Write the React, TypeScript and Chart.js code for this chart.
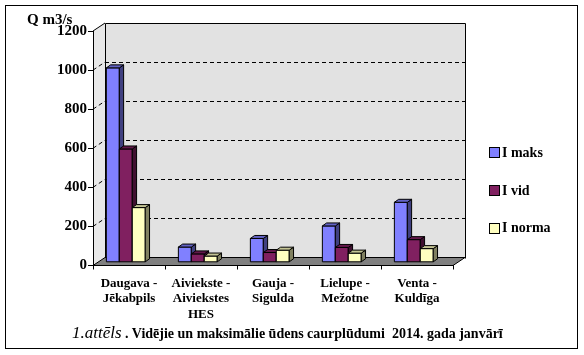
import React, { useEffect, useRef } from 'react';
import { Chart, registerables } from 'chart.js';

Chart.register(...registerables);

// ---------- data ----------
const categories: string[][] = [
  ['Daugava -', 'Jēkabpils'],
  ['Aiviekste -', 'Aiviekstes', 'HES'],
  ['Gauja -', 'Sigulda'],
  ['Lielupe -', 'Mežotne'],
  ['Venta -', 'Kuldīga'],
];
const seriesNames = ['I maks', 'I vid', 'I norma'];
const iMaks = [995, 78, 122, 186, 307];
const iVid = [580, 43, 50, 76, 116];
const iNorma = [280, 32, 62, 47, 70];
const yMin = 0;
const yMax = 1200;
const yStep = 200;
const axisTitle = 'Q m3/s';
const captionItalic = '1.attēls';
const captionBold = 'Vidējie un maksimālie ūdens caurplūdumi  2014. gada janvārī';

// ---------- style ----------
const FONT = "'Liberation Serif', 'Times New Roman', serif";
const FRONT = ['#8080ff', '#802060', '#ffffc0'];
const TOPC = ['#6262c4', '#62184a', '#c4c494'];
const SIDE = ['#404080', '#401030', '#808060'];
const WALL = '#e2e2e2';
const SIDEWALL = '#e8e8e8';
const FLOOR = '#808080';
const DX = 12; // wall depth
const DY = 8;
const BOX = -3.2; // bar front plane offset
const BOY = -3.2;
const BDX = 4.3; // bar depth
const BDY = 3;

const threeD = {
  id: 'threeD',
  beforeDraw(chart: any) {
    const { ctx, chartArea: a, scales } = chart;
    const y = scales.y;
    ctx.save();
    ctx.lineWidth = 1;
    ctx.strokeStyle = '#000';
    // back wall
    ctx.fillStyle = WALL;
    ctx.fillRect(a.left + DX, a.top - DY, a.right - a.left, a.bottom - a.top);
    // side wall
    ctx.fillStyle = SIDEWALL;
    ctx.beginPath();
    ctx.moveTo(a.left, a.top);
    ctx.lineTo(a.left + DX, a.top - DY);
    ctx.lineTo(a.left + DX, a.bottom - DY);
    ctx.lineTo(a.left, a.bottom);
    ctx.closePath();
    ctx.fill();
    // grid lines
    ctx.setLineDash([4, 3]);
    for (const t of y.ticks) {
      if (t.value <= yMin || t.value >= yMax) continue;
      const py = y.getPixelForValue(t.value);
      const by = Math.round(py - DY) + 0.5;
      ctx.beginPath();
      ctx.moveTo(a.left + DX, by);
      ctx.lineTo(a.right + DX, by);
      ctx.stroke();
      ctx.beginPath();
      ctx.moveTo(a.left, py);
      ctx.lineTo(a.left + DX, py - DY);
      ctx.stroke();
    }
    ctx.setLineDash([]);
    // wall outline
    const L = Math.round(a.left + DX) + 0.5;
    const R = Math.round(a.right + DX) + 0.5;
    const T = Math.round(a.top - DY) + 0.5;
    const B = Math.round(a.bottom - DY) + 0.5;
    ctx.beginPath();
    ctx.moveTo(L, B);
    ctx.lineTo(L, T);
    ctx.lineTo(R, T);
    ctx.lineTo(R, B);
    ctx.stroke();
    ctx.beginPath();
    ctx.moveTo(a.left, a.top);
    ctx.lineTo(a.left + DX, a.top - DY);
    ctx.stroke();
    // floor
    ctx.fillStyle = FLOOR;
    ctx.beginPath();
    ctx.moveTo(a.left, a.bottom);
    ctx.lineTo(a.right, a.bottom);
    ctx.lineTo(a.right + DX, a.bottom - DY);
    ctx.lineTo(a.left + DX, a.bottom - DY);
    ctx.closePath();
    ctx.fill();
    ctx.stroke();
    ctx.restore();
  },
  beforeDatasetsDraw(chart: any) {
    const { ctx } = chart;
    ctx.save();
    ctx.lineWidth = 1;
    ctx.strokeStyle = '#000';
    ctx.lineJoin = 'miter';
    const n = chart.data.labels.length;
    const nd = chart.data.datasets.length;
    for (let i = 0; i < n; i++) {
      for (let d = 0; d < nd; d++) {
        const el = chart.getDatasetMeta(d).data[i];
        const { x, y, base, width } = el.getProps(['x', 'y', 'base', 'width'], true);
        const l = x - width / 2 + BOX;
        const r = x + width / 2 + BOX;
        const t = y + BOY;
        const b = base + BOY;
        // front
        ctx.fillStyle = FRONT[d];
        ctx.beginPath();
        ctx.rect(l, t, r - l, b - t);
        ctx.fill();
        ctx.stroke();
        // side
        ctx.fillStyle = SIDE[d];
        ctx.beginPath();
        ctx.moveTo(r, t);
        ctx.lineTo(r + BDX, t - BDY);
        ctx.lineTo(r + BDX, b - BDY);
        ctx.lineTo(r, b);
        ctx.closePath();
        ctx.fill();
        ctx.stroke();
        // top
        ctx.fillStyle = TOPC[d];
        ctx.beginPath();
        ctx.moveTo(l, t);
        ctx.lineTo(l + BDX, t - BDY);
        ctx.lineTo(r + BDX, t - BDY);
        ctx.lineTo(r, t);
        ctx.closePath();
        ctx.fill();
        ctx.stroke();
      }
    }
    ctx.restore();
    return false;
  },
  afterDraw(chart: any) {
    const { ctx } = chart;
    ctx.save();
    // legend
    const ys = [152, 190, 227.5];
    ctx.font = `bold 14px ${FONT}`;
    ctx.textBaseline = 'middle';
    ctx.textAlign = 'left';
    chart.data.datasets.forEach((ds: any, i: number) => {
      ctx.fillStyle = FRONT[i];
      ctx.fillRect(489.5, Math.round(ys[i] - 5) + 0.5, 10, 10);
      ctx.strokeStyle = '#000';
      ctx.lineWidth = 1;
      ctx.strokeRect(489.5, Math.round(ys[i] - 5) + 0.5, 10, 10);
      ctx.fillStyle = '#000';
      ctx.fillText(ds.label, 502, ys[i] + 1);
    });
    // axis title
    ctx.font = `bold 15px ${FONT}`;
    ctx.fillStyle = '#000';
    ctx.fillText(axisTitle, 27, 20);
    ctx.restore();
  },
};

export default function App() {
  const ref = useRef<HTMLCanvasElement | null>(null);
  useEffect(() => {
    if (!ref.current) return;
    const chart = new Chart(ref.current, {
      type: 'bar',
      data: {
        labels: categories as any,
        datasets: [
          { label: seriesNames[0], data: iMaks, backgroundColor: FRONT[0] },
          { label: seriesNames[1], data: iVid, backgroundColor: FRONT[1] },
          { label: seriesNames[2], data: iNorma, backgroundColor: FRONT[2] },
        ],
      },
      options: {
        responsive: false,
        animation: false,
        devicePixelRatio: 1,
        layout: { padding: { left: 0, top: 31, right: 131, bottom: 29.5 } },
        datasets: { bar: { categoryPercentage: 0.54, barPercentage: 1 } },
        plugins: { legend: { display: false }, tooltip: { enabled: false }, title: { display: false } },
        scales: {
          x: {
            afterFit: (s: any) => { s.height = 60; },
            grid: { drawOnChartArea: false, drawTicks: true, tickLength: 4, color: '#000', offset: true },
            border: { display: true, color: '#000', width: 1 },
            ticks: {
              color: '#000',
              font: { family: FONT, size: 13, weight: 'bold', lineHeight: 1.2 },
              padding: 6,
              maxRotation: 0,
              minRotation: 0,
              autoSkip: false,
            },
          },
          y: {
            min: yMin,
            max: yMax,
            afterFit: (s: any) => { s.width = 93; },
            grid: { drawOnChartArea: false, drawTicks: true, tickLength: 5, color: '#000' },
            border: { display: true, color: '#000', width: 1 },
            ticks: {
              stepSize: yStep,
              color: '#000',
              padding: 1,
              font: { family: FONT, size: 15, weight: 'bold' },
              callback: (v: any) => String(v),
            },
          },
        },
      },
      plugins: [threeD as any],
    });
    return () => chart.destroy();
  }, []);

  return (
    <div style={{ position: 'absolute', left: 0, top: 0, width: 584, height: 355 }}>
      <div
        style={{
          position: 'absolute', left: 5, top: 5, width: 573, height: 344,
          border: '1px solid #000', boxSizing: 'border-box',
        }}
      />
      <canvas ref={ref} width={584} height={355} style={{ position: 'absolute', left: 0, top: 0 }} />
      <div
        style={{
          position: 'absolute', left: 72, top: 324, whiteSpace: 'pre',
          fontFamily: FONT, fontSize: 14, lineHeight: '18px', color: '#000',
        }}
      >
        <span style={{ fontStyle: 'italic', fontSize: 17 }}>{captionItalic}</span>
        <span style={{ fontWeight: 'bold' }}>{' . ' + captionBold}</span>
      </div>
    </div>
  );
}
